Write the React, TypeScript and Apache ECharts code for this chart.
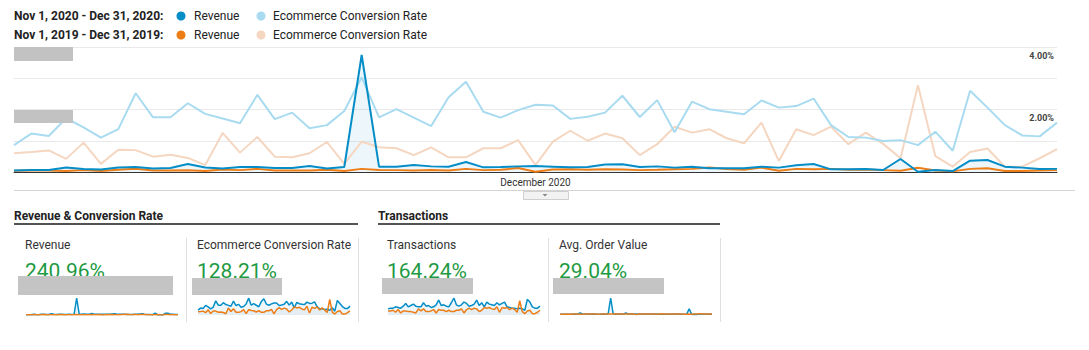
import React, { useEffect, useRef } from 'react';
import * as echarts from 'echarts';

// ---------- categories ----------
const novDays: string[] = Array.from({ length: 30 }, (_, i) => `Nov ${i + 1}`);
const decDays: string[] = Array.from({ length: 31 }, (_, i) => `Dec ${i + 1}`);
const categories: string[] = [...novDays, ...decDays];
const monthTickIndex = 30;
const monthTickLabel = 'December 2020';
const rightTickLabels: Record<number, string> = { 4: '4.00%', 2: '2.00%' };

// ---------- main chart series ----------
const revenue2020 = [480, 640, 640, 1440, 960, 800, 1440, 1600, 1120, 1280, 2560, 1440, 1120, 1600, 1600, 1280, 1280, 1920, 1120, 1600, 37440, 1700, 1700, 2240, 1800, 1700, 3200, 1490, 1600, 1800, 1900, 1700, 1490, 1600, 2400, 2500, 1600, 1800, 1400, 1700, 1170, 1170, 1170, 1700, 1400, 2130, 2560, 850, 850, 950, 640, 4160, 100, 640, 300, 3630, 3840, 1700, 1400, 950, 1000];
const revenue2019 = [400, 450, 500, 350, 600, 300, 700, 1050, 500, 450, 550, 350, 800, 600, 1000, 500, 450, 500, 700, 300, 1000, 650, 600, 500, 650, 450, 1000, 600, 700, 1250, 100, 800, 900, 750, 850, 800, 600, 700, 900, 1000, 1450, 950, 700, 1400, 400, 1000, 900, 1000, 700, 800, 600, 400, 1350, 500, 200, 1000, 1200, 300, 300, 450, 600];
const conv2020 = [0.86, 1.23, 1.15, 1.72, 1.43, 1.10, 1.37, 2.52, 1.75, 1.75, 2.20, 1.86, 1.71, 1.56, 2.47, 1.69, 1.90, 1.40, 1.50, 1.95, 3.03, 1.75, 2.01, 1.74, 1.47, 2.39, 2.89, 1.93, 1.74, 1.98, 2.15, 2.13, 1.70, 1.77, 1.90, 2.44, 1.76, 2.30, 1.27, 2.25, 2.01, 1.93, 1.85, 2.29, 2.06, 2.11, 2.35, 1.50, 1.12, 1.10, 0.99, 1.02, 0.86, 1.29, 0.68, 2.60, 2.06, 1.50, 1.17, 1.14, 1.58];
const conv2019 = [0.60, 0.64, 0.69, 0.42, 0.94, 0.26, 0.71, 0.70, 0.49, 0.55, 0.45, 0.22, 1.25, 0.62, 1.12, 0.49, 0.47, 0.60, 0.96, 0.26, 0.97, 0.79, 0.76, 0.54, 0.79, 0.47, 0.47, 0.76, 0.76, 1.02, 0.22, 0.97, 1.32, 1.00, 1.23, 1.08, 0.54, 0.89, 1.45, 1.26, 1.37, 1.08, 0.92, 1.58, 0.35, 1.37, 1.18, 1.45, 0.89, 1.26, 0.90, 0.44, 2.78, 0.51, 0.17, 0.64, 0.75, 0.17, 0.17, 0.44, 0.73];

// ---------- sparkline-only series ----------
const tx2020 = [9, 10, 10, 12, 11, 10, 13, 17, 12, 14, 16, 13, 12, 12, 18, 13, 14, 11, 12, 15, 22, 14, 15, 13, 12, 18, 25, 15, 13, 15, 19, 17, 13, 14, 16, 22, 14, 18, 12, 19, 16, 15, 14, 18, 15, 17, 19, 12, 11, 10, 10, 9, 10, 9, 7, 23, 19, 12, 10, 10, 13];
const tx2019 = [6, 6, 7, 4, 8, 3, 6, 6, 5, 5, 4, 3, 9, 6, 9, 5, 5, 6, 8, 3, 8, 7, 7, 5, 7, 5, 5, 7, 7, 9, 3, 8, 10, 8, 10, 9, 5, 7, 11, 10, 11, 9, 8, 12, 4, 11, 10, 11, 8, 10, 8, 4, 21, 5, 2, 6, 7, 2, 2, 4, 7];
const aov2020 = [48, 52, 55, 62, 58, 54, 66, 70, 160, 60, 72, 65, 58, 70, 62, 64, 60, 75, 62, 66, 1248, 68, 64, 72, 70, 62, 150, 66, 70, 68, 66, 64, 70, 68, 74, 70, 66, 62, 68, 60, 56, 58, 60, 64, 62, 70, 72, 54, 58, 62, 50, 462, 30, 50, 40, 74, 78, 66, 68, 60, 58];
const aov2019 = [57, 56, 63, 70, 60, 75, 68, 72, 63, 64, 72, 68, 67, 66, 71, 63, 65, 71, 70, 75, 80, 72, 67, 71, 72, 75, 77, 67, 78, 84, 25, 80, 69, 68, 71, 73, 76, 70, 64, 77, 84, 76, 70, 73, 80, 71, 75, 71, 70, 62, 60, 67, 61, 71, 67, 85, 83, 70, 70, 75, 75];

// ---------- scorecards ----------
const cardTitles = ['Revenue', 'Ecommerce Conversion Rate', 'Transactions', 'Avg. Order Value'];
const cardValues = ['240.96%', '128.21%', '164.24%', '29.04%'];
const sectionTitles = ['Revenue & Conversion Rate', 'Transactions'];
const periodLabels = ['Nov 1, 2020 - Dec 31, 2020:', 'Nov 1, 2019 - Dec 31, 2019:'];
const metricNames = ['Revenue', 'Ecommerce Conversion Rate'];

const BLUE = '#058dc7';
const LIGHT_BLUE = '#a9dbf0';
const ORANGE = '#ed7e17';
const PEACH = '#f4d6c1';
const GREEN = '#1e9a43';
const FONT = 'Roboto';

const txt = (text: string, x: number, y: number, extra: any = {}) => ({
  type: 'text',
  x,
  y,
  silent: true,
  z: 100,
  style: {
    text,
    fill: '#222',
    fontFamily: FONT,
    fontSize: 12,
    textAlign: 'left',
    textVerticalAlign: 'middle',
    align: 'left',
    verticalAlign: 'middle',
    ...extra,
  },
});
const rect = (x: number, y: number, w: number, h: number, fill: string, stroke?: string) => ({
  type: 'rect',
  silent: true,
  z: 100,
  shape: { x, y, width: w, height: h },
  style: stroke ? { fill, stroke, lineWidth: 1 } : { fill },
});
const hline = (x1: number, x2: number, y: number, stroke: string, lw = 1) => ({
  type: 'line',
  silent: true,
  z: 100,
  shape: { x1, y1: y, x2, y2: y },
  style: { stroke, lineWidth: lw },
});
const vline = (x: number, y1: number, y2: number, stroke: string) => ({
  type: 'line',
  silent: true,
  z: 100,
  shape: { x1: x, y1, x2: x, y2 },
  style: { stroke, lineWidth: 1 },
});
const dot = (cx: number, cy: number, fill: string) => ({
  type: 'circle',
  silent: true,
  z: 100,
  shape: { cx, cy, r: 4.5 },
  style: { fill },
});

export default function App() {
  const ref = useRef<HTMLDivElement>(null);

  useEffect(() => {
    if (!ref.current) return;
    const chart = echarts.init(ref.current, undefined, { renderer: 'svg' });

    const sparkGrids = [
      { left: 26, top: 298, width: 152, height: 17 },
      { left: 198, top: 298, width: 152, height: 17 },
      { left: 388, top: 298, width: 152, height: 17 },
      { left: 560, top: 298, width: 152, height: 17 },
    ];
    const sparkData = [
      [revenue2020, revenue2019, 'Revenue'],
      [conv2020, conv2019, 'Ecommerce Conversion Rate'],
      [tx2020, tx2019, 'Transactions'],
      [aov2020, aov2019, 'Avg. Order Value'],
    ] as [number[], number[], string][];

    const sparkSeries: any[] = [];
    sparkData.forEach(([cur, prev, name], k) => {
      sparkSeries.push({
        name: `${name} (2020)`,
        type: 'line',
        xAxisIndex: k + 1,
        yAxisIndex: k + 2,
        data: cur,
        showSymbol: false,
        lineStyle: { color: BLUE, width: 1.5 },
        itemStyle: { color: BLUE },
        areaStyle: { color: 'rgba(5,141,199,0.10)' },
      });
      sparkSeries.push({
        name: `${name} (2019)`,
        type: 'line',
        xAxisIndex: k + 1,
        yAxisIndex: k + 2,
        data: prev,
        showSymbol: false,
        lineStyle: { color: ORANGE, width: 1.5 },
        itemStyle: { color: ORANGE },
        areaStyle: { color: 'rgba(0,0,0,0.05)' },
      });
    });

    const cardX = [25, 197, 387, 559];
    const grayBoxes = [
      [18, 276, 155, 19],
      [192, 278, 90, 17],
      [382, 278, 91, 16],
      [553, 278, 111, 16],
    ];

    const elements: any[] = [
      // legend
      txt(periodLabels[0], 14, 16, { fontWeight: 'bold' }),
      dot(181, 16, BLUE),
      txt(metricNames[0], 194, 16),
      dot(261, 16, LIGHT_BLUE),
      txt(metricNames[1], 273, 16),
      txt(periodLabels[1], 14, 35, { fontWeight: 'bold' }),
      dot(181, 35, ORANGE),
      txt(metricNames[0], 194, 35),
      dot(261, 35, PEACH),
      txt(metricNames[1], 273, 35),
      // hidden left axis labels
      rect(14, 47, 59, 14, '#c2c2c2'),
      rect(14, 110, 59, 13, '#c2c2c2'),
      // divider + toggle button
      hline(14, 1075, 190.5, '#d4d4d4'),
      rect(523.5, 191.5, 45, 8, '#f2f2f2', '#cfcfcf'),
      {
        type: 'polygon',
        silent: true,
        z: 101,
        shape: { points: [[542.5, 194], [547.5, 194], [545, 196.5]] },
        style: { fill: '#888' },
      },
      // section headers
      txt(sectionTitles[0], 14, 216, { fontWeight: 'bold', fill: '#222' }),
      hline(14, 358, 224, '#1a1a1a', 1.6),
      txt(sectionTitles[1], 378, 216, { fontWeight: 'bold', fill: '#222' }),
      hline(378, 720, 224, '#1a1a1a', 1.6),
      // separators
      vline(186.5, 238, 322, '#e0e0e0'),
      vline(358.5, 238, 322, '#e0e0e0'),
      vline(548.5, 238, 322, '#e0e0e0'),
      vline(720.5, 238, 322, '#e0e0e0'),
    ];
    cardTitles.forEach((t, i) => {
      elements.push(txt(t, cardX[i], 245, { fill: '#333' }));
      elements.push(txt(cardValues[i], cardX[i], 271, { fill: GREEN, fontSize: 21 }));
    });
    grayBoxes.forEach(([x, y, w, h]) => elements.push(rect(x, y, w, h, '#c4c4c4')));

    const option: any = {
      animation: false,
      backgroundColor: '#ffffff',
      textStyle: { fontFamily: FONT },
      grid: [{ left: 14, top: 47, width: 1043, height: 125 }, ...sparkGrids],
      xAxis: [
        {
          type: 'category',
          gridIndex: 0,
          data: categories,
          boundaryGap: false,
          axisLine: { lineStyle: { color: '#333', width: 1 } },
          axisTick: { show: false },
          axisLabel: {
            interval: (index: number) => index === monthTickIndex,
            formatter: (_v: string, index: number) => (index === monthTickIndex ? monthTickLabel : ''),
            fontSize: 10,
            color: '#333',
            margin: 5,
          },
          splitLine: { show: false },
        },
        ...[1, 2, 3, 4].map((g) => ({
          type: 'category',
          gridIndex: g,
          data: categories,
          boundaryGap: false,
          show: false,
        })),
      ],
      yAxis: [
        {
          type: 'value',
          gridIndex: 0,
          position: 'left',
          min: 0,
          max: 40000,
          interval: 10000,
          axisLabel: { show: false },
          axisLine: { show: false },
          axisTick: { show: false },
          splitLine: { show: false },
        },
        {
          type: 'value',
          gridIndex: 0,
          position: 'right',
          min: 0,
          max: 4,
          interval: 1,
          axisLine: { show: false },
          axisTick: { show: false },
          splitLine: { lineStyle: { color: '#e9e9e9', width: 1 } },
          axisLabel: {
            inside: true,
            margin: 3,
            fontSize: 9,
            fontWeight: 'bold',
            color: '#444',
            verticalAlign: 'top',
            padding: [4, 0, 0, 0],
            formatter: (v: number) => rightTickLabels[v] || '',
          },
        },
        ...[1, 2, 3, 4].map((g) => ({
          type: 'value',
          gridIndex: g,
          min: 0,
          max: 'dataMax',
          show: false,
          splitLine: { show: false },
        })),
      ],
      series: [
        {
          name: 'Ecommerce Conversion Rate (2019)',
          type: 'line',
          xAxisIndex: 0,
          yAxisIndex: 1,
          data: conv2019,
          showSymbol: false,
          lineStyle: { color: PEACH, width: 2 },
          itemStyle: { color: PEACH },
        },
        {
          name: 'Ecommerce Conversion Rate (2020)',
          type: 'line',
          xAxisIndex: 0,
          yAxisIndex: 1,
          data: conv2020,
          showSymbol: false,
          lineStyle: { color: LIGHT_BLUE, width: 2 },
          itemStyle: { color: LIGHT_BLUE },
        },
        {
          name: 'Revenue (2019)',
          type: 'line',
          xAxisIndex: 0,
          yAxisIndex: 0,
          data: revenue2019,
          showSymbol: false,
          lineStyle: { color: ORANGE, width: 2 },
          itemStyle: { color: ORANGE },
        },
        {
          name: 'Revenue (2020)',
          type: 'line',
          xAxisIndex: 0,
          yAxisIndex: 0,
          data: revenue2020,
          showSymbol: false,
          lineStyle: { color: BLUE, width: 2 },
          itemStyle: { color: BLUE },
          areaStyle: { color: 'rgba(5,141,199,0.10)' },
        },
        ...sparkSeries,
      ],
      graphic: { elements },
    };

    chart.setOption(option);
    return () => chart.dispose();
  }, []);

  return (
    <div
      ref={ref}
      style={{ position: 'absolute', left: 0, top: 0, width: 1089, height: 350, background: '#fff' }}
    />
  );
}
